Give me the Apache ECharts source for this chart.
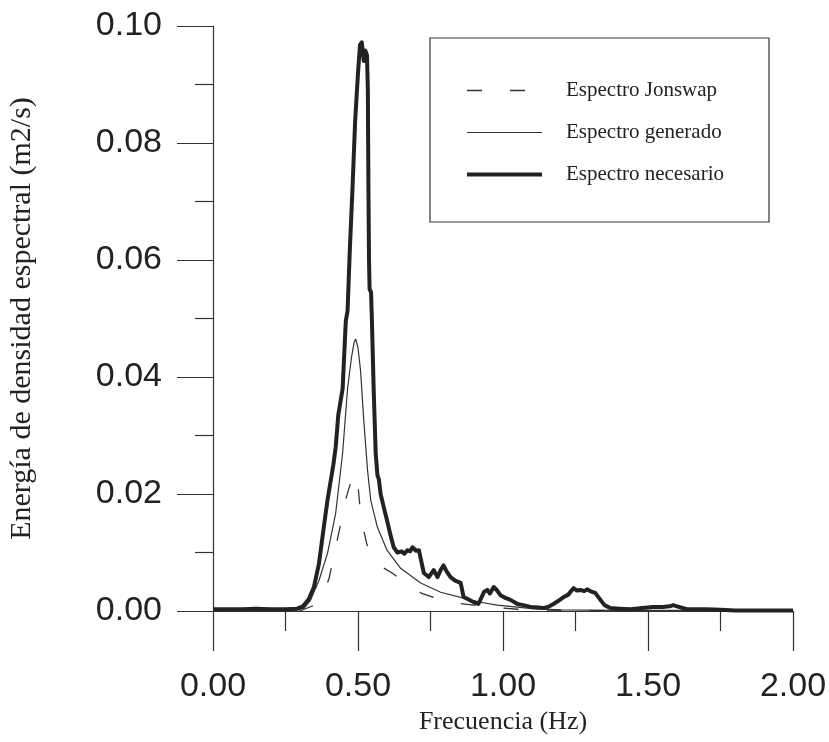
<!DOCTYPE html>
<html>
<head>
<meta charset="utf-8">
<script src="https://cdn.jsdelivr.net/npm/echarts@6/dist/echarts.min.js"></script>
<style>
html,body{margin:0;padding:0;background:#fff;}
#chart{width:829px;height:742px;}
</style>
</head>
<body>
<div id="chart"></div>
<script>
// ---- data ----
var seriesNames = ['Espectro Jonswap', 'Espectro generado', 'Espectro necesario'];
var xTicks = [0, 0.5, 1.0, 1.5, 2.0];
var yTicks = [0, 0.02, 0.04, 0.06, 0.08, 0.10];

var jonswapF = [0.00, 0.30, 0.35, 0.38, 0.40, 0.43, 0.46, 0.48, 0.49, 0.50, 0.51, 0.53, 0.55, 0.58, 0.62, 0.67, 0.72, 0.78, 0.85, 0.95, 1.05, 1.20, 1.50, 2.00];
var jonswapV = [0.0000, 0.0000, 0.0010, 0.0030, 0.0055, 0.0125, 0.0195, 0.0228, 0.0235, 0.0215, 0.0160, 0.0115, 0.0090, 0.0076, 0.0064, 0.0046, 0.0030, 0.0020, 0.0013, 0.0007, 0.0003, 0.0001, 0.0000, 0.0000];

var generadoF = [0.00, 0.29, 0.315, 0.337, 0.366, 0.395, 0.423, 0.447, 0.464, 0.478, 0.487, 0.492, 0.500, 0.509, 0.520, 0.533, 0.544, 0.567, 0.600, 0.647, 0.716, 0.785, 0.864, 0.922, 0.980, 1.040, 1.100, 1.200, 1.400, 2.000];
var generadoV = [0.0002, 0.0002, 0.0005, 0.0019, 0.0053, 0.0099, 0.0167, 0.0270, 0.0380, 0.0435, 0.0460, 0.0465, 0.0450, 0.0410, 0.0325, 0.0240, 0.0189, 0.0143, 0.0104, 0.0073, 0.0048, 0.0032, 0.0022, 0.0015, 0.0010, 0.0007, 0.0004, 0.0002, 0.0001, 0.0001];

var necesarioF = [0.00, 0.05, 0.10, 0.15, 0.20, 0.25, 0.29, 0.31, 0.33, 0.348, 0.365, 0.382, 0.395, 0.406, 0.415, 0.423, 0.428, 0.432, 0.438, 0.447, 0.458, 0.464, 0.472, 0.481, 0.490, 0.500, 0.507, 0.513, 0.520, 0.525, 0.531, 0.534, 0.535, 0.536, 0.538, 0.540, 0.545, 0.548, 0.554, 0.561, 0.567, 0.572, 0.578, 0.590, 0.600, 0.612, 0.623, 0.636, 0.650, 0.660, 0.670, 0.680, 0.688, 0.700, 0.710, 0.727, 0.744, 0.761, 0.774, 0.785, 0.795, 0.805, 0.819, 0.835, 0.854, 0.864, 0.880, 0.899, 0.915, 0.922, 0.935, 0.946, 0.955, 0.968, 0.980, 0.991, 1.010, 1.026, 1.050, 1.070, 1.095, 1.120, 1.140, 1.160, 1.174, 1.190, 1.210, 1.225, 1.243, 1.255, 1.267, 1.280, 1.290, 1.305, 1.318, 1.336, 1.350, 1.370, 1.400, 1.440, 1.480, 1.518, 1.550, 1.575, 1.587, 1.600, 1.634, 1.700, 1.750, 1.800, 1.900, 2.000];
var necesarioV = [0.0003, 0.0003, 0.0003, 0.0004, 0.0003, 0.0003, 0.0004, 0.0008, 0.0020, 0.0041, 0.0080, 0.0143, 0.0190, 0.0223, 0.0250, 0.0280, 0.0310, 0.0335, 0.0335, 0.0380, 0.0496, 0.0513, 0.0620, 0.0722, 0.0836, 0.0920, 0.0968, 0.0972, 0.0940, 0.0958, 0.0950, 0.0890, 0.0800, 0.0720, 0.0600, 0.0550, 0.0545, 0.0496, 0.0380, 0.0270, 0.0232, 0.0225, 0.0200, 0.0175, 0.0155, 0.0130, 0.0109, 0.0100, 0.0102, 0.0098, 0.0104, 0.0102, 0.0109, 0.0103, 0.0104, 0.0065, 0.0058, 0.0070, 0.0058, 0.0070, 0.0078, 0.0068, 0.0058, 0.0052, 0.0048, 0.0024, 0.0020, 0.0015, 0.0012, 0.0019, 0.0033, 0.0036, 0.0030, 0.0041, 0.0035, 0.0027, 0.0022, 0.0019, 0.0012, 0.0010, 0.0007, 0.0006, 0.0005, 0.0008, 0.0012, 0.0017, 0.0024, 0.0028, 0.0039, 0.0035, 0.0036, 0.0034, 0.0037, 0.0033, 0.0031, 0.0019, 0.0010, 0.0005, 0.0004, 0.0003, 0.0005, 0.0007, 0.0007, 0.0008, 0.0010, 0.0008, 0.0003, 0.0003, 0.0002, 0.0001, 0.0001, 0.0001];

function pairs(f, v) { return f.map(function (x, i) { return [x, v[i]]; }); }

var chart = echarts.init(document.getElementById('chart'), null, {renderer: 'canvas'});
var serif = '"Liberation Serif", "DejaVu Serif", serif';
var sans = '"Liberation Sans", Arial, sans-serif';

var styles = [
  {color: '#333', width: 1.3, type: [15, 28]},
  {color: '#333', width: 1.2, type: 'solid'},
  {color: '#222', width: 4, type: 'solid'}
];

chart.setOption({
  animation: false,
  backgroundColor: '#ffffff',
  grid: {left: 213, top: 26, width: 580, height: 585, containLabel: false, outerBoundsMode: 'none'},
  legend: {
    orient: 'vertical',
    left: 430, top: 38,
    padding: [42, 45, 37, 35],
    itemWidth: 75, itemHeight: 10, itemGap: 21,
    borderColor: '#333', borderWidth: 1.2,
    textStyle: {fontFamily: serif, fontSize: 21, color: '#222', padding: [0, 0, 0, 19]},
    data: seriesNames.map(function (n, i) {
      return {name: n, itemStyle: {opacity: 0}, lineStyle: styles[i]};
    })
  },
  xAxis: {
    type: 'value', min: 0, max: 2, interval: 0.5,
    name: 'Frecuencia (Hz)', nameLocation: 'middle', nameGap: 89,
    nameTextStyle: {fontFamily: serif, fontSize: 26, color: '#222'},
    axisLine: {show: true, lineStyle: {color: '#333', width: 1.2}},
    axisTick: {show: true, length: 40, lineStyle: {color: '#333', width: 1.2}},
    minorTick: {show: true, splitNumber: 2, length: 20, lineStyle: {color: '#333', width: 1.2}},
    splitLine: {show: false},
    axisLabel: {fontFamily: sans, fontSize: 34, color: '#222', margin: 59, lineHeight: 34,
      formatter: function (v) { return xTicks.indexOf(v) >= 0 ? v.toFixed(2) : ''; }}
  },
  yAxis: {
    type: 'value', min: 0, max: 0.1, interval: 0.02,
    name: 'Energía de densidad espectral (m2/s)', nameLocation: 'middle', nameGap: 176, nameRotate: 90,
    nameTextStyle: {fontFamily: serif, fontSize: 30, color: '#222'},
    axisLine: {show: true, lineStyle: {color: '#333', width: 1.2}},
    axisTick: {show: true, length: 36, lineStyle: {color: '#333', width: 1.2}},
    minorTick: {show: true, splitNumber: 2, length: 18, lineStyle: {color: '#333', width: 1.2}},
    splitLine: {show: false},
    axisLabel: {fontFamily: sans, fontSize: 34, color: '#222', margin: 51,
      formatter: function (v) { return v.toFixed(2); }}
  },
  series: [
    {name: seriesNames[0], type: 'line', symbol: 'none', z: 3,
     lineStyle: styles[0], itemStyle: {color: '#333'},
     data: pairs(jonswapF, jonswapV)},
    {name: seriesNames[1], type: 'line', symbol: 'none', z: 4,
     lineStyle: styles[1], itemStyle: {color: '#333'},
     data: pairs(generadoF, generadoV)},
    {name: seriesNames[2], type: 'line', symbol: 'none', z: 5,
     lineStyle: {color: '#222', width: 4, join: 'round'}, itemStyle: {color: '#222'},
     data: pairs(necesarioF, necesarioV)}
  ]
});
</script>
</body>
</html>
